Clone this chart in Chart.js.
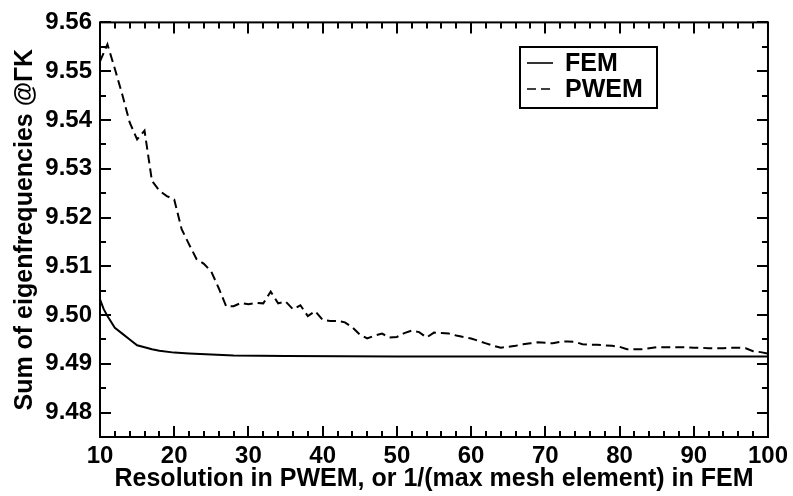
<!DOCTYPE html>
<html>
<head>
<meta charset="utf-8">
<script src="https://cdn.jsdelivr.net/npm/chart.js@4.4.0/dist/chart.umd.min.js"></script>
<style>
  body { margin: 0; background: #fff; }
  #holder { width: 793px; height: 496px; }
</style>
</head>
<body>
<div id="holder"><canvas id="chart"></canvas></div>
<script>
// PWEM: plane-wave resolution vs. summed eigenfrequencies
var pwemRes = [10, 11, 12, 13, 14, 15, 16, 17, 18, 19, 20, 21, 22, 23, 24, 25, 26, 27, 28, 29,
               30, 31, 32, 33, 34, 35, 36, 37, 38, 39, 40, 41, 42, 43, 44, 45, 46, 47, 48, 49,
               50, 51, 52, 53, 54, 55, 56, 57, 58, 59, 60, 61, 62, 63, 64, 65, 66, 67, 68, 69,
               70, 71, 72, 73, 74, 75, 76, 77, 78, 79, 80, 81, 82, 83, 84, 85, 86, 87, 88, 89,
               90, 91, 92, 93, 94, 95, 96, 97, 98, 99, 100];
var pwemSum = [9.5520, 9.5555, 9.5505, 9.5452, 9.5395, 9.5360, 9.5378, 9.5275, 9.5255, 9.5244,
               9.5237, 9.5176, 9.5145, 9.5115, 9.5105, 9.5089, 9.5055, 9.5018, 9.5018, 9.5025,
               9.5022, 9.5025, 9.5024, 9.5048, 9.5024, 9.5028, 9.5012, 9.5020, 9.4998, 9.5008,
               9.4990, 9.4988, 9.4988, 9.4985, 9.4975, 9.4960, 9.4952, 9.4958, 9.4962, 9.4954,
               9.4955, 9.4963, 9.4968, 9.4965, 9.4954, 9.4964, 9.4963, 9.4962, 9.4958, 9.4955,
               9.4952, 9.4947, 9.4942, 9.4937, 9.4933, 9.4935, 9.4937, 9.4940, 9.4942, 9.4944,
               9.4943, 9.4942, 9.4945, 9.4946, 9.4945, 9.4940, 9.4939, 9.4939, 9.4938, 9.4937,
               9.4935, 9.4930, 9.4930, 9.4930, 9.4932, 9.4934, 9.4934, 9.4934, 9.4934, 9.4934,
               9.4933, 9.4933, 9.4932, 9.4932, 9.4932, 9.4933, 9.4933, 9.4932, 9.4926, 9.4924,
               9.4921];

// FEM: 1/(max mesh element) vs. summed eigenfrequencies
var femRes = [10, 10.5, 11, 12, 13, 14, 15, 16, 17, 18, 20, 22, 25, 28, 35, 50, 70, 100];
var femSum = [9.5032, 9.5012, 9.4998, 9.4974, 9.4962, 9.4950, 9.4938, 9.4934, 9.4930, 9.4927,
              9.4923, 9.4921, 9.4919, 9.4917, 9.4916, 9.4915, 9.4915, 9.4915];

var xTicks = [10, 20, 30, 40, 50, 60, 70, 80, 90, 100];
var yTicks = [9.48, 9.49, 9.50, 9.51, 9.52, 9.53, 9.54, 9.55, 9.56];

function toPoints(xs, ys) {
  var pts = [];
  for (var i = 0; i < xs.length; i++) pts.push({ x: xs[i], y: ys[i] });
  return pts;
}

var fontFamily = '"Liberation Sans", Arial, sans-serif';

// box, inward ticks on all four sides and a boxed legend
var framePlugin = {
  id: 'frame',
  afterDraw: function(chart) {
    var ctx = chart.ctx, a = chart.chartArea;
    var xs = chart.scales.x, ys = chart.scales.y;
    ctx.save();
    ctx.strokeStyle = '#000';
    ctx.lineWidth = 2;
    ctx.strokeRect(a.left, a.top, a.right - a.left, a.bottom - a.top);
    ctx.beginPath();
    for (var v = 10; v <= 100; v += 2) {
      var px = Math.round(xs.getPixelForValue(v));
      var len = (v % 10 === 0) ? 11 : 6;
      ctx.moveTo(px, a.bottom); ctx.lineTo(px, a.bottom - len);
      ctx.moveTo(px, a.top); ctx.lineTo(px, a.top + len);
    }
    for (var i = 0; i <= 17; i++) {
      var val = 9.475 + i * 0.005;
      var py = Math.round(ys.getPixelForValue(val));
      var l2 = (i % 2 === 1) ? 11 : 6;
      ctx.moveTo(a.left, py); ctx.lineTo(a.left + l2, py);
      ctx.moveTo(a.right, py); ctx.lineTo(a.right - l2, py);
    }
    ctx.stroke();

    // legend
    var bx = 520, by = 47, bw = 137, bh = 61;
    ctx.strokeRect(bx, by, bw, bh);
    ctx.font = 'bold 25px ' + fontFamily;
    ctx.fillStyle = '#000';
    ctx.textBaseline = 'middle';
    var rows = [by + 16, by + 42];
    chart.data.datasets.forEach(function(ds, k) {
      ctx.beginPath();
      ctx.lineWidth = 1.6;
      ctx.setLineDash(ds.borderDash || []);
      ctx.moveTo(bx + 7, rows[k]); ctx.lineTo(bx + 33, rows[k]);
      ctx.stroke();
      ctx.setLineDash([]);
      ctx.fillText(ds.label, bx + 45, rows[k] + 1);
    });
    ctx.restore();
  }
};

new Chart(document.getElementById('chart'), {
  type: 'line',
  data: {
    datasets: [{
      label: 'FEM',
      data: toPoints(femRes, femSum),
      borderColor: '#000',
      borderWidth: 2,
      pointRadius: 0,
      tension: 0
    }, {
      label: 'PWEM',
      data: toPoints(pwemRes, pwemSum),
      borderColor: '#000',
      borderWidth: 2,
      borderDash: [9, 5],
      pointRadius: 0,
      tension: 0
    }]
  },
  options: {
    responsive: true,
    maintainAspectRatio: false,
    animation: false,
    layout: { padding: { top: 17, right: 24, left: 0, bottom: 0 } },
    plugins: { legend: { display: false }, tooltip: { enabled: false } },
    scales: {
      x: {
        type: 'linear',
        min: 10, max: 100,
        grid: { display: false, drawTicks: false },
        border: { display: false },
        afterFit: function(s) { s.height = 59; },
        afterBuildTicks: function(s) { s.ticks = xTicks.map(function(v) { return { value: v }; }); },
        ticks: {
          padding: 5,
          color: '#000',
          maxRotation: 0,
          font: { family: fontFamily, size: 24, weight: 'bold' }
        },
        title: {
          display: true,
          text: 'Resolution in PWEM, or 1/(max mesh element) in FEM',
          color: '#000',
          padding: { top: 0, bottom: 2 },
          font: { family: fontFamily, size: 25, weight: 'bold' }
        }
      },
      y: {
        min: 9.475, max: 9.56,
        grid: { display: false, drawTicks: false },
        border: { display: false },
        afterFit: function(s) { s.width = 100; },
        afterBuildTicks: function(s) { s.ticks = yTicks.map(function(v) { return { value: v }; }); },
        ticks: {
          padding: 8,
          color: '#000',
          font: { family: fontFamily, size: 24, weight: 'bold' },
          callback: function(v) { return v.toFixed(2); }
        },
        title: {
          display: true,
          text: 'Sum of eigenfrequencies @\u0393K',
          color: '#000',
          padding: { top: 10, bottom: 0 },
          font: { family: fontFamily, size: 25, weight: 'bold' }
        }
      }
    }
  },
  plugins: [framePlugin]
});
</script>
</body>
</html>
